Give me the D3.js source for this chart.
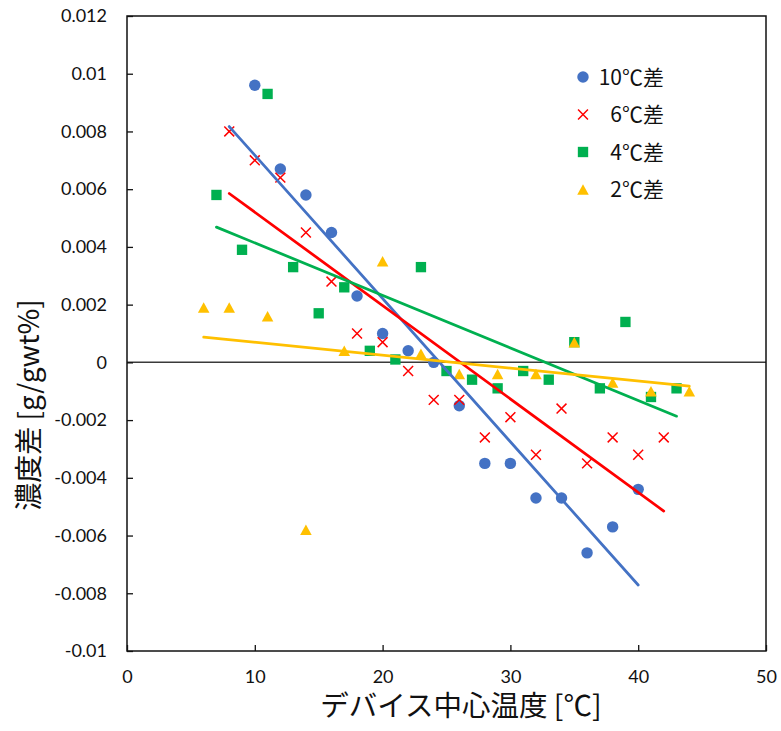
<!DOCTYPE html>
<html>
<head>
<meta charset="utf-8">
<script src="https://cdn.jsdelivr.net/npm/d3@7"></script>
<style>
  html, body { margin: 0; padding: 0; background: #fff; }
  svg { display: block; }
</style>
</head>
<body>
<div id="chart"></div>
<script>
// ---------- data ----------
const seriesNames = ["10℃差", "6℃差", "4℃差", "2℃差"];

const x10 = [10, 12, 14, 16, 18, 20, 22, 24, 26, 28, 30, 32, 34, 36, 38, 40];
const y10 = [0.0096, 0.0067, 0.0058, 0.0045, 0.0023, 0.0010, 0.0004, 0.0000,
             -0.0015, -0.0035, -0.0035, -0.0047, -0.0047, -0.0066, -0.0057, -0.0044];

const x6 = [8, 10, 12, 14, 16, 18, 20, 22, 24, 26, 28, 30, 32, 34, 36, 38, 40, 42];
const y6 = [0.0080, 0.0070, 0.0064, 0.0045, 0.0028, 0.0010, 0.0007, -0.0003, -0.0013,
            -0.0013, -0.0026, -0.0019, -0.0032, -0.0016, -0.0035, -0.0026, -0.0032, -0.0026];

const x4 = [7, 9, 11, 13, 15, 17, 19, 21, 23, 25, 27, 29, 31, 33, 35, 37, 39, 41, 43];
const y4 = [0.0058, 0.0039, 0.0093, 0.0033, 0.0017, 0.0026, 0.0004, 0.0001, 0.0033,
            -0.0003, -0.0006, -0.0009, -0.0003, -0.0006, 0.0007, -0.0009, 0.0014, -0.0012, -0.0009];

const x2 = [6, 8, 11, 14, 17, 20, 23, 26, 29, 32, 35, 38, 41, 44];
const y2 = [0.0019, 0.0019, 0.0016, -0.0058, 0.0004, 0.0035, 0.0003, -0.0004,
            -0.0004, -0.0004, 0.0007, -0.0007, -0.0010, -0.0010];

// linear trendline x-range for each series (axis units)
const trendStart = [8, 8, 7, 6];
const trendEnd = [40, 42, 43, 44];

const xTicks = [0, 10, 20, 30, 40, 50];
const yTicks = [-0.01, -0.008, -0.006, -0.004, -0.002, 0, 0.002, 0.004, 0.006, 0.008, 0.01, 0.012];
const xTickLabels = ["0", "10", "20", "30", "40", "50"];
const yTickLabels = ["-0.01", "-0.008", "-0.006", "-0.004", "-0.002", "0",
                     "0.002", "0.004", "0.006", "0.008", "0.01", "0.012"];

const xTitle = "デバイス中心温度 [℃]";
const yTitle = "濃度差 [g/gwt%]";

// ---------- style ----------
const colors = ["#4472C4", "#FF0000", "#00B050", "#FFC000"];
const markerTypes = ["circle", "cross", "square", "triangle"];

const W = 781, H = 731;
const m = { left: 127, right: 15, top: 16, bottom: 80 };

const svg = d3.select("#chart").append("svg").attr("width", W).attr("height", H);

const x = d3.scaleLinear().domain([0, 50]).range([m.left, W - m.right]);
const y = d3.scaleLinear().domain([-0.01, 0.012]).range([H - m.bottom, m.top]);

const xsAll = [x10, x6, x4, x2];
const ysAll = [y10, y6, y4, y2];
const series = seriesNames.map((name, i) => ({
  name, color: colors[i], marker: markerTypes[i],
  points: xsAll[i].map((xv, j) => ({ x: xv, y: ysAll[i][j] })),
  t0: trendStart[i], t1: trendEnd[i]
}));

// linear regression
function regress(pts) {
  const mx = d3.mean(pts, d => d.x), my = d3.mean(pts, d => d.y);
  let sxy = 0, sxx = 0;
  pts.forEach(p => { sxy += (p.x - mx) * (p.y - my); sxx += (p.x - mx) * (p.x - mx); });
  const b = sxy / sxx;
  return { a: my - b * mx, b };
}

// zero line
svg.append("line")
  .attr("x1", x(0)).attr("x2", x(50))
  .attr("y1", y(0)).attr("y2", y(0))
  .attr("stroke", "#3a3a3a").attr("stroke-width", 1.5);

// frame
svg.append("rect")
  .attr("x", x(0)).attr("y", y(0.012))
  .attr("width", x(50) - x(0)).attr("height", y(-0.01) - y(0.012))
  .attr("fill", "none").attr("stroke", "#111").attr("stroke-width", 1.5);

// axes (ticks inside)
const yAxis = d3.axisLeft(y).tickValues(yTicks)
  .tickFormat((d, i) => yTickLabels[i]).tickSize(-6).tickPadding(20);
const gy = svg.append("g").attr("transform", `translate(${x(0)},0)`).call(yAxis);
gy.select(".domain").remove();
gy.selectAll(".tick line").attr("stroke", "#111").attr("stroke-width", 1.3);
gy.selectAll(".tick text")
  .style("font-family", "Lato, 'Noto Sans', sans-serif")
  .style("font-size", "18px").attr("fill", "#111");

const xAxis = d3.axisBottom(x).tickValues(xTicks)
  .tickFormat((d, i) => xTickLabels[i]).tickSize(-6).tickPadding(19);
const gx = svg.append("g").attr("transform", `translate(0,${y(-0.01)})`).call(xAxis);
gx.select(".domain").remove();
gx.selectAll(".tick line").attr("stroke", "#111").attr("stroke-width", 1.3);
gx.selectAll(".tick text")
  .style("font-family", "Lato, 'Noto Sans', sans-serif")
  .style("font-size", "18px").attr("fill", "#111");

// marker drawing
function drawMarker(g, type, color, cx, cy, s) {
  if (type === "circle") {
    g.append("circle").attr("cx", cx).attr("cy", cy).attr("r", s * 0.52).attr("fill", color);
  } else if (type === "square") {
    g.append("rect").attr("x", cx - s * 0.47).attr("y", cy - s * 0.47)
      .attr("width", s * 0.94).attr("height", s * 0.94).attr("fill", color);
  } else if (type === "triangle") {
    const h = s * 0.95, w = s * 1.05;
    g.append("path")
      .attr("d", `M${cx},${cy - h / 2}L${cx + w / 2},${cy + h / 2}L${cx - w / 2},${cy + h / 2}Z`)
      .attr("fill", color);
  } else if (type === "cross") {
    const r = s * 0.45;
    g.append("path")
      .attr("d", `M${cx - r},${cy - r}L${cx + r},${cy + r}M${cx - r},${cy + r}L${cx + r},${cy - r}`)
      .attr("stroke", color).attr("stroke-width", 1.5).attr("fill", "none");
  }
}

// markers
const gm = svg.append("g");
series.forEach(s => {
  s.points.forEach(p => drawMarker(gm, s.marker, s.color, x(p.x), y(p.y), 11));
});

// trendlines
const gt = svg.append("g");
series.forEach(s => {
  const r = regress(s.points);
  gt.append("line")
    .attr("x1", x(s.t0)).attr("y1", y(r.a + r.b * s.t0))
    .attr("x2", x(s.t1)).attr("y2", y(r.a + r.b * s.t1))
    .attr("stroke", s.color).attr("stroke-width", 2.75).attr("stroke-linecap", "round");
});

// legend
const lg = svg.append("g");
series.forEach((s, i) => {
  const cy = 77 + i * 37.5;
  drawMarker(lg, s.marker, s.color, 583, cy, 11);
  lg.append("text")
    .attr("x", 664).attr("y", cy).attr("dy", "0.36em")
    .attr("text-anchor", "end")
    .style("font-family", "'Noto Sans CJK JP', sans-serif")
    .style("font-size", "21px").attr("fill", "#111")
    .text(s.name);
});

// axis titles
svg.append("text")
  .attr("x", 461).attr("y", 716)
  .attr("text-anchor", "middle")
  .style("font-family", "'Noto Sans CJK JP', sans-serif")
  .style("font-size", "28.5px").attr("fill", "#111")
  .text(xTitle);

svg.append("text")
  .attr("transform", `translate(27,405) rotate(-90)`)
  .attr("text-anchor", "middle").attr("dominant-baseline", "central")
  .style("font-family", "'Noto Sans CJK JP', sans-serif")
  .style("font-size", "28px").attr("fill", "#111")
  .text(yTitle);
</script>
</body>
</html>
